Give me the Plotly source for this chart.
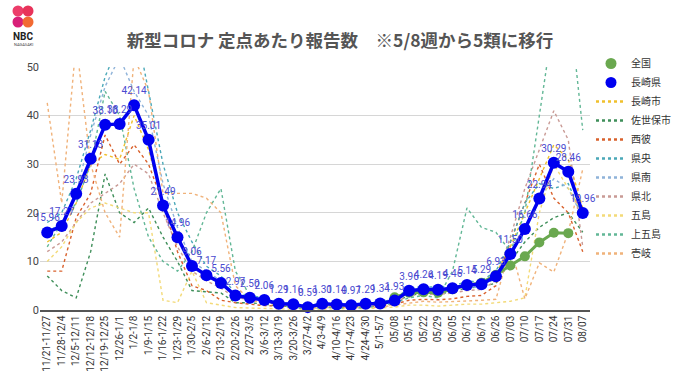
import plotly.graph_objects as go

weeks = ["11/21-11/27", "11/28-12/4", "12/5-12/11", "12/12-12/18", "12/19-12/25", "12/26-1/1",
         "1/2-1/8", "1/9-1/15", "1/16-1/22", "1/23-1/29", "1/30-2/5", "2/6-2/12", "2/13-2/19",
         "2/20-2/26", "2/27-3/5", "3/6-3/12", "3/13-3/19", "3/20-3/26", "3/27-4/2", "4/3-4/9",
         "4/10-4/16", "4/17-4/23", "4/24-4/30", "5/1-5/7", "05/08", "05/15", "05/22", "05/29",
         "06/05", "06/12", "06/19", "06/26", "07/03", "07/10", "07/17", "07/24", "07/31", "08/07"]

nagasaki_pref = [15.96, 17.27, 23.93, 31.13, 38.10, 38.29, 42.14, 35.01, 21.49, 14.96, 9.06, 7.17,
                 5.56, 2.97, 2.50, 2.06, 1.29, 1.16, 0.59, 1.30, 1.14, 0.97, 1.29, 1.34, 1.93, 3.96,
                 4.26, 4.19, 4.46, 5.14, 5.29, 6.93, 11.50, 16.66, 22.94, 30.29, 28.46, 19.96]

national = [None] * 24 + [2.63, 3.55, 3.63, 3.56, 4.25, 5.11, 5.60, 7.24, 9.14, 11.04, 13.91,
                          15.91, 15.81, None]

nagasaki_city = [14, 16, 22, 30, 32, 31, 40, 33, 22, 15, 9, 7, 5.5, 3, 2.5, 2.0, 1.3, 1.2, 0.6, 1.3,
                 1.1, 1.0, 1.3, 1.4, 2.0, 4.0, 4.4, 4.3, 4.6, 5.3, 5.4, 7.5, 13, 20, 27, 34, 31, 21]
sasebo = [7, 4, 2.5, 12, 28, 20, 18, 21, 15, 10, 4, 3.8, 3.5, 1.5, 1.5, 1.2, 0.8, 0.7, 0.4, 0.9,
          0.8, 0.6, 0.9, 1.1, 1.6, 3.0, 3.5, 3.2, 3.8, 4.5, 4.8, 5.5, 10, 14, 17, 19, 20, 16]
seihi = [8, 8, 19, 24, 36, 30, 34, 30, 22, 12, 5, 4, 2, 1.5, 1.2, 0.9, 0.8, 0.5, 0.3, 0.7, 0.6,
         0.5, 0.7, 0.8, 1.2, 2.0, 2.2, 2.1, 2.3, 2.8, 3.0, 5.0, 14, 22, 30, 23, 20, 12]
kenou = [18, 20, 27, 37, 48, 55, 60, 45, 30, 20, 14, 9, 7, 3.5, 3.0, 2.5, 1.5, 1.4, 0.7, 1.5, 1.3,
         1.1, 1.5, 1.6, 2.3, 4.5, 4.8, 4.7, 5.0, 5.8, 6.0, 8, 14, 22, 26, 25, 26, 19]
kennan = [16, 18, 24, 36, 46, 52, 45, 40, 26, 17, 10, 8, 6, 3.2, 2.8, 2.3, 1.5, 1.3, 0.7, 1.4, 1.2,
          1.0, 1.4, 1.5, 2.1, 3.5, 3.9, 3.8, 4.0, 4.6, 4.8, 6.5, 11, 17, 23, 27, 25, 19]
kenhoku = [12, 14, 18, 22, 24, 26, 30, 28, 20, 13, 8, 6, 4.5, 2.5, 2.2, 1.8, 1.0, 0.9, 0.4, 1.0,
           0.9, 0.8, 1.0, 1.1, 1.5, 3.0, 3.3, 3.2, 3.5, 4.0, 4.2, 6.0, 15, 25, 33, 41, 35, 13]
goto = [10, 13, 18, 21, 22, 21, 20, 20, 2, 1.5, 8, 1.5, 1.0, 0.5, 0.4, 0.3, 0.2, 0.2, 0.1, 0.2,
        0.2, 0.2, 0.3, 0.4, 0.6, 1.0, 1.0, 0.8, 1.0, 1.2, 1.2, 1.5, 1.8, 2.5, 20, 30, 25, 20]
kamigoto = [13, 18, 22, 30, 45, 40, 25, 15, 10, 8, 12, 20, 25, 8, 3, 2, 1, 0.5, 0.2, 0.5, 0.5, 0.3,
            0.5, 0.8, 1.5, 2.5, 3, 2.5, 8, 21, 17, 16, 12, 20, 40, 60, 65, 37]
iki = [42.6, 22, 55, 30, 20, 15, 52, 45, 24, 24, 24, 23, 20, 5, 2, 1.5, 1, 0.8, 0.3, 0.5, 0.5, 0.4,
       0.5, 0.6, 1, 1.5, 1.8, 1.6, 1.7, 1.9, 2.0, 2.2, 13, 2.3, 9.7, 7.8, 16, 29]

regions = [
    ("長崎市", nagasaki_city, "#f0c02c"),
    ("佐世保市", sasebo, "#3f8f5a"),
    ("西彼", seihi, "#d9612c"),
    ("県央", kenou, "#4aa8b8"),
    ("県南", kennan, "#8fb3d9"),
    ("県北", kenhoku, "#c99a95"),
    ("五島", goto, "#f3da78"),
    ("上五島", kamigoto, "#62b796"),
    ("壱岐", iki, "#f0b27a"),
]

FONT = "Roboto, 'Noto Sans CJK JP', sans-serif"
JP = "'Noto Sans CJK JP', sans-serif"
fig = go.Figure()

for name, vals, col in regions:
    fig.add_trace(go.Scatter(x=weeks, y=vals, mode="lines", name=name, showlegend=False,
                             line=dict(color=col, width=1.4, dash="dot")))

fig.add_trace(go.Scatter(x=weeks, y=national, mode="lines+markers", name="全国", showlegend=False,
                         line=dict(color="#6aa84f", width=3), marker=dict(size=10, color="#6aa84f")))
fig.add_trace(go.Scatter(x=weeks, y=nagasaki_pref, mode="lines+markers+text", name="長崎県",
                         showlegend=False, line=dict(color="#0000f0", width=3.5),
                         marker=dict(size=12, color="#0000f0"), cliponaxis=False,
                         texttemplate="%{y:.2f}", textposition="top center",
                         textfont=dict(size=10, color="#4a4ad0", family=FONT)))

# legend entries
fig.add_trace(go.Scatter(x=[None], y=[None], mode="markers", name="全国",
                         marker=dict(size=11, color="#6aa84f")))
fig.add_trace(go.Scatter(x=[None], y=[None], mode="markers", name="長崎県",
                         marker=dict(size=11, color="#0000f0")))
for name, vals, col in regions:
    fig.add_trace(go.Scatter(x=[None], y=[None], mode="lines", name=name,
                             line=dict(color=col, width=2.5, dash="dot")))

# NBC logo approximation (paper coords: plot spans x 40..590, y 67..310 px)
def px(x):
    return (x - 40) / 550

def py(y):
    return (310 - y) / 243

logo = [(18, 11, "#ec3d6a"), (28, 11, "#e8335a"), (18, 22, "#d81f78"), (28, 22, "#f26a32")]
for cx, cy, c in logo:
    fig.add_shape(type="circle", xref="paper", yref="paper",
                  x0=px(cx - 5.5), x1=px(cx + 5.5), y0=py(cy + 5.5), y1=py(cy - 5.5),
                  fillcolor=c, line=dict(width=0), layer="above")
fig.add_annotation(text="<b>NBC</b>", xref="paper", yref="paper", x=px(23), y=py(37),
                   showarrow=False, font=dict(size=10, color="#222", family=FONT),
                   xanchor="center", yanchor="middle")
fig.add_annotation(text="NAGASAKI", xref="paper", yref="paper", x=px(23), y=py(45),
                   showarrow=False, font=dict(size=4, color="#444", family=FONT),
                   xanchor="center", yanchor="middle")

fig.update_layout(
    width=680, height=382,
    margin=dict(l=40, r=90, t=67, b=72, autoexpand=False),
    paper_bgcolor="white", plot_bgcolor="white",
    font=dict(family=FONT, color="#333"),
    title=dict(text="<b>新型コロナ 定点あたり報告数　※5/8週から5類に移行</b>",
               x=0.5, xanchor="center", xref="container", yref="container",
               y=1 - 41 / 382, yanchor="middle",
               font=dict(size=17.5, color="#555", family=JP)),
    legend=dict(xref="container", yref="container", x=591 / 680, xanchor="left",
                y=1 - 49 / 382, yanchor="top", maxheight=330,
                font=dict(size=10, color="#333", family=JP),
                itemwidth=30, tracegroupgap=0, bgcolor="rgba(0,0,0,0)"),
    showlegend=True,
)
fig.update_xaxes(type="category", range=[-0.5, len(weeks) - 0.5], tickangle=-90,
                 tickfont=dict(size=10, color="#333"),
                 showgrid=False, showline=True, linecolor="#555", linewidth=1.5, ticks="",
                 automargin=False)
fig.update_yaxes(range=[0, 50], dtick=10, tickfont=dict(size=11, color="#444"),
                 gridcolor="#d6d6d6", zeroline=False, showline=False, ticks="",
                 automargin=False)

fig.write_html("out.html", config={"displayModeBar": False},
               post_script="document.body.style.margin='0';")
